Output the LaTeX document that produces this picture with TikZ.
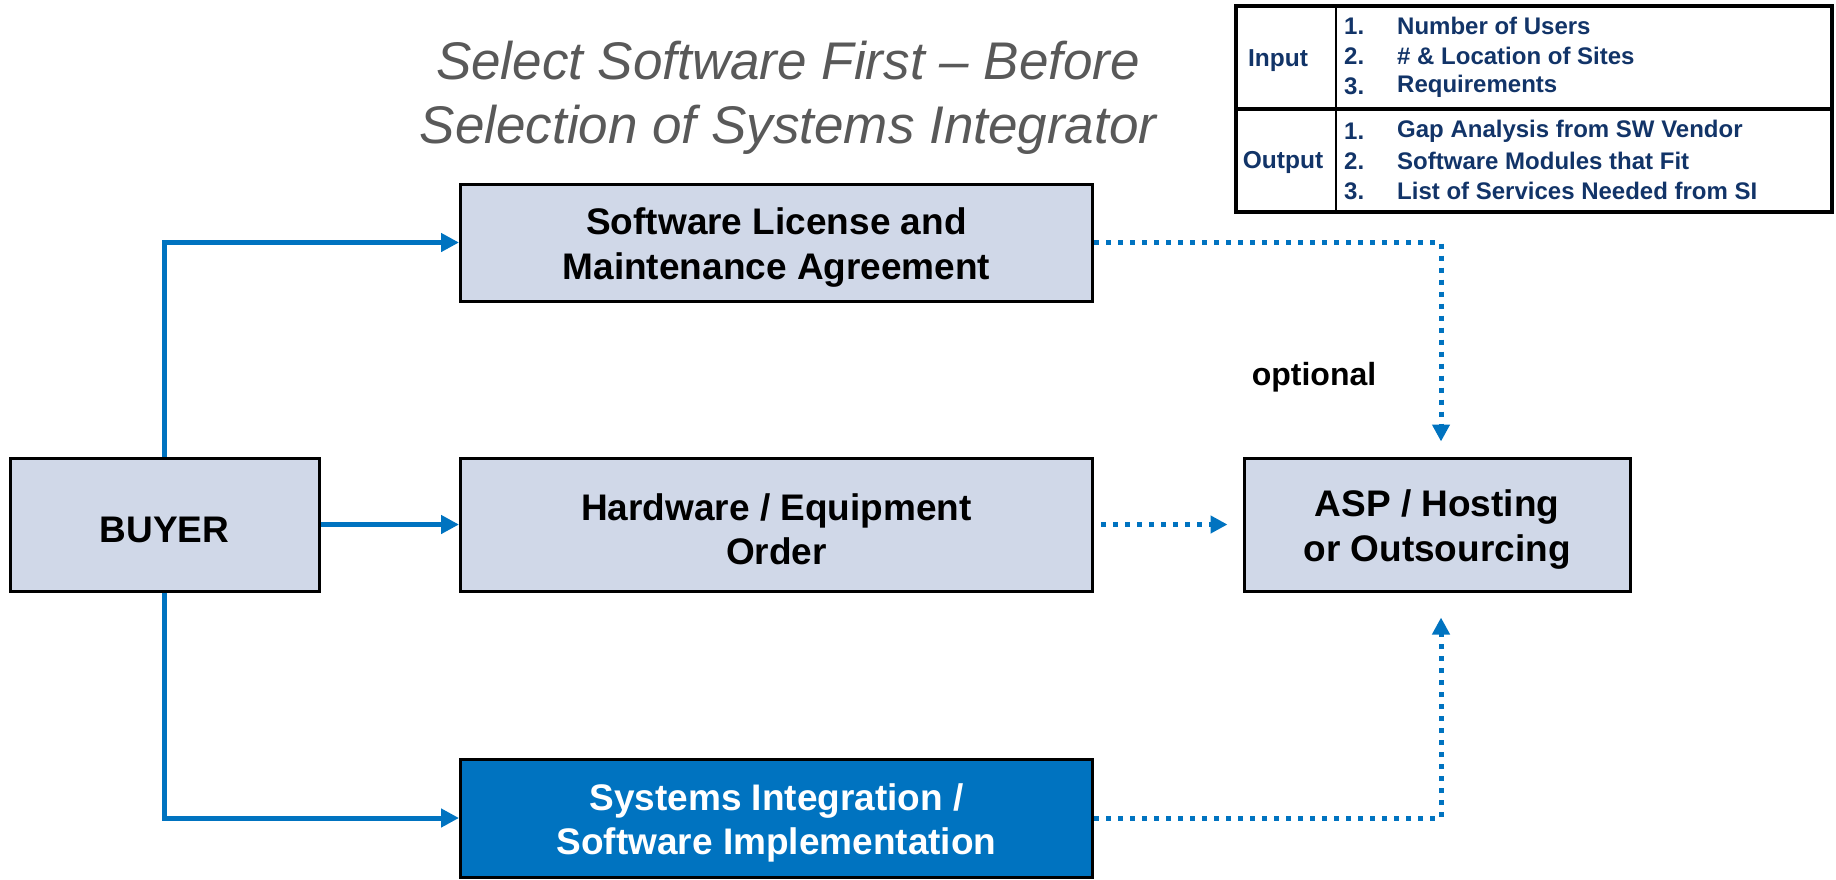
\documentclass[tikz,border=0pt]{standalone}
\usepackage{fontspec}
\setmainfont{Liberation Sans}
\usetikzlibrary{arrows.meta}
\definecolor{boxfill}{RGB}{208,216,232}
\definecolor{flowblue}{RGB}{0,115,192}
\definecolor{navy}{RGB}{18,52,104}
\definecolor{titlegray}{RGB}{89,89,89}
\tikzset{
  box/.style={draw=black, line width=3pt, fill=boxfill, inner sep=0pt,
    minimum width=632pt, minimum height=117pt},
  sibox/.style={box, fill=flowblue},
  boxtext/.style={inner sep=0pt, align=center, yshift=-5pt,
    font=\fontsize{37}{44.5}\selectfont\bfseries},
  flow/.style={draw=flowblue, line width=5pt,
    -{Triangle[length=18pt,width=18pt]}},
  optflow/.style={draw=flowblue, line width=5pt, dash pattern=on 5pt off 7pt,
    -{Triangle[length=17pt,width=17pt]}},
  tabtext/.style={text=navy, inner sep=0pt, anchor=west,
    font=\fontsize{24}{29}\selectfont\bfseries},
  tablabel/.style={text=navy, inner sep=0pt,
    font=\fontsize{24.5}{29}\selectfont\bfseries},
}
\begin{document}
\begin{tikzpicture}[x=1pt,y=-1pt]
\useasboundingbox (0,0) rectangle (1836,879);

% heading
\node[font=\fontsize{53}{64.5}\selectfont\itshape, text=titlegray, align=center]
  (title) at (788,98) {Select Software First -- Before\\Selection of Systems Integrator};

% boxes
\node[box, minimum width=309pt, minimum height=133pt] (buyer) at (164.5,524.5) {};
\node[box] (sw) at (776.5,242.5) {};
\node[box, minimum height=133pt] (hw) at (776.5,524.5) {};
\node[sibox, minimum height=118pt] (si) at (776.5,818) {};
\node[box, minimum width=386pt, minimum height=133pt] (asp) at (1437,524.5) {};

% box captions
\node[boxtext] (buyertext) at (buyer.center) {BUYER};
\node[boxtext] (swtext) at (sw.center) {Software License and\\Maintenance Agreement};
\node[boxtext] (hwtext) at (hw.center) {Hardware / Equipment\\Order};
\node[boxtext, text=white] (sitext) at (si.center) {Systems Integration /\\Software Implementation};
\node[boxtext] (asptext) at (asp.center) {ASP / Hosting\\or Outsourcing};

% solid connectors from the buyer
\draw[flow] (buyer.north) |- (sw.west);
\draw[flow] (buyer.east) -- (hw.west);
\draw[flow] (buyer.south) |- (si.west);

% dotted connectors into hosting
\draw[optflow, shorten >=15pt] (sw.east) -| ([xshift=4pt]asp.north);
\draw[optflow, shorten <=7pt, shorten >=15pt] (hw.east) -- (asp.west);
\draw[optflow, shorten >=25pt] (si.east) -| ([xshift=4pt]asp.south);

\node[font=\fontsize{32}{38}\selectfont\bfseries] (opt) at (1314,377) {optional};

% input / output table
\draw[line width=4.5pt] (1236,6) rectangle (1832,212);
\draw[line width=4.5pt] (1236,109) -- (1832,109);
\draw[line width=1.5pt] (1336,6) -- (1336,212);
\node[tablabel] (inlabel) at (1278,61) {Input};
\node[tablabel] (outlabel) at (1283,162) {Output};
\foreach \n/\y/\t in {1/26/Number of Users, 2/56/\# \& Location of Sites, 3/86/Requirements,
                      4/131/Gap Analysis from SW Vendor, 5/161/Software Modules that Fit,
                      6/191/List of Services Needed from SI}{
  \pgfmathtruncatemacro{\k}{mod(\n-1,3)+1}
  \node[tabtext] (num\n) at (1344,\y) {\k.};
  \node[tabtext] (item\n) at (1397,\y) {\t};
}
\end{tikzpicture}
\end{document}
